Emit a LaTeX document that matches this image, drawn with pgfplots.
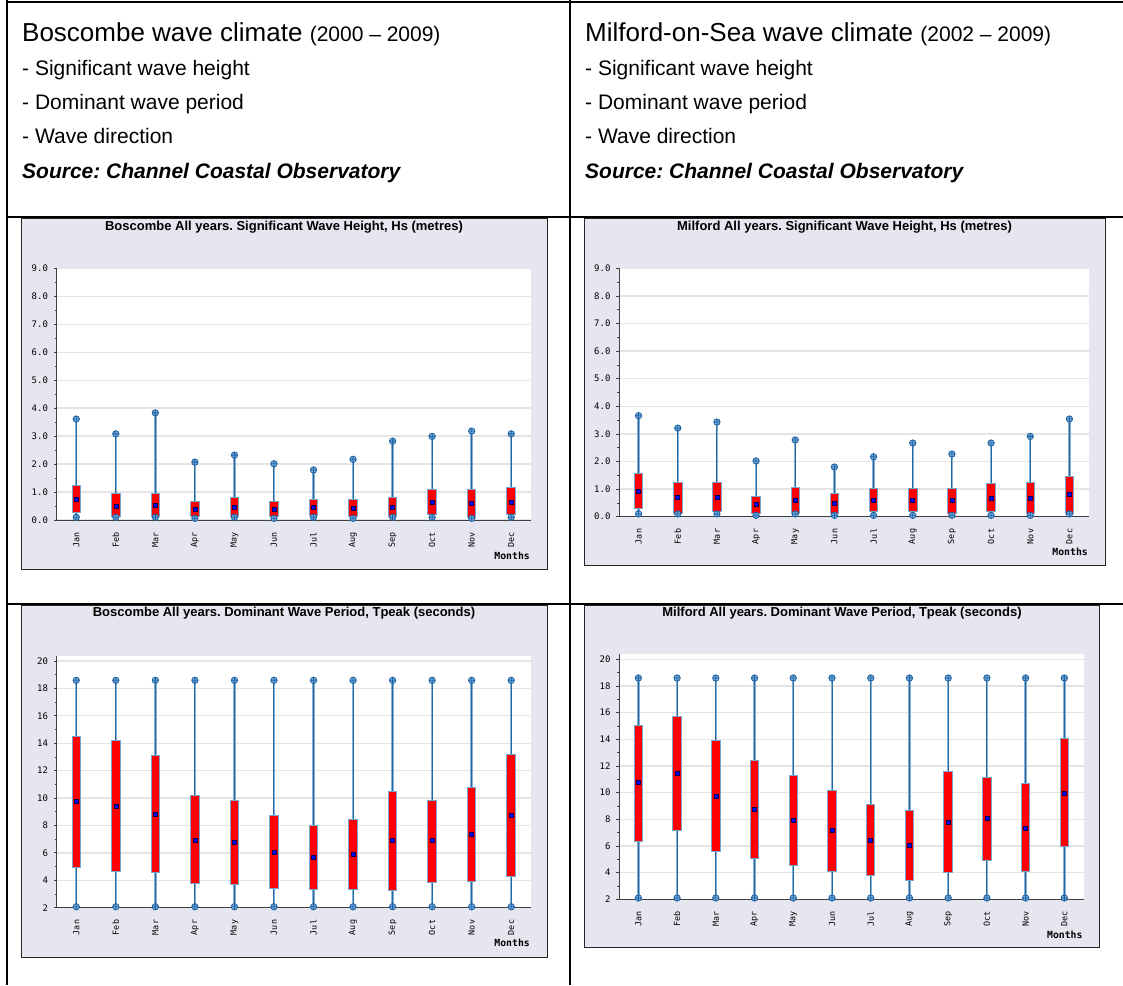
\documentclass[border=0pt]{standalone}
\usepackage{fontspec}
\setmainfont{Liberation Sans}
\setmonofont{DejaVu Sans Mono}
\usepackage{pgfplots}
\pgfplotsset{compat=1.18}
\usepackage{pgfplotstable}

\definecolor{panelbg}{RGB}{230,230,240}
\definecolor{wdark}{RGB}{35,105,165}
\definecolor{wlight}{RGB}{135,175,210}
\definecolor{boxred}{RGB}{255,0,0}
\definecolor{boxedge}{RGB}{120,165,205}
\definecolor{markfill}{RGB}{120,170,215}
\definecolor{markdraw}{RGB}{30,100,165}
\definecolor{meanfill}{RGB}{0,0,255}
\definecolor{meandraw}{RGB}{0,0,80}
\definecolor{gridc}{RGB}{228,228,228}
\definecolor{axisc}{RGB}{64,64,64}

% m = month, min, q1 = box bottom, mean, q3 = box top, max
\pgfplotstableread{
m min q1 mean q3 max
1 0.10 0.27 0.75 1.21 3.61
2 0.10 0.14 0.50 0.92 3.08
3 0.10 0.14 0.52 0.92 3.83
4 0.06 0.15 0.37 0.63 2.07
5 0.10 0.14 0.46 0.77 2.32
6 0.06 0.15 0.37 0.63 2.01
7 0.10 0.18 0.46 0.71 1.79
8 0.06 0.15 0.43 0.71 2.17
9 0.10 0.14 0.46 0.77 2.82
10 0.10 0.21 0.65 1.08 2.99
11 0.06 0.10 0.60 1.06 3.18
12 0.10 0.21 0.65 1.13 3.08
}\tabBH

\pgfplotstableread{
m min q1 mean q3 max
1 0.10 0.30 0.91 1.53 3.66
2 0.10 0.14 0.69 1.23 3.21
3 0.10 0.22 0.72 1.23 3.43
4 0.05 0.12 0.45 0.72 2.02
5 0.10 0.12 0.60 1.03 2.78
6 0.05 0.14 0.47 0.81 1.80
7 0.05 0.19 0.60 1.00 2.17
8 0.05 0.19 0.60 1.00 2.67
9 0.05 0.12 0.58 1.00 2.27
10 0.05 0.19 0.66 1.17 2.67
11 0.05 0.12 0.66 1.21 2.91
12 0.10 0.14 0.80 1.44 3.54
}\tabMH

\pgfplotstableread{
m min q1 mean q3 max
1 2.07 4.99 9.79 14.46 18.59
2 2.07 4.68 9.37 14.14 18.59
3 2.07 4.63 8.79 13.05 18.59
4 2.07 3.78 6.94 10.15 18.59
5 2.07 3.70 6.79 9.81 18.59
6 2.07 3.46 6.04 8.67 18.59
7 2.07 3.34 5.65 7.96 18.59
8 2.07 3.39 5.92 8.40 18.59
9 2.07 3.27 6.89 10.47 18.59
10 2.07 3.85 6.89 9.81 18.59
11 2.07 3.92 7.33 10.73 18.59
12 2.07 4.29 8.74 13.12 18.59
}\tabBT

\pgfplotstableread{
m min q1 mean q3 max
1 2.10 6.38 10.75 15.03 18.60
2 2.10 7.20 11.45 15.68 18.60
3 2.10 5.60 9.70 13.88 18.60
4 2.10 5.08 8.75 12.35 18.60
5 2.10 4.58 7.90 11.25 18.60
6 2.10 4.13 7.15 10.15 18.60
7 2.10 3.80 6.43 9.05 18.60
8 2.10 3.48 6.05 8.65 18.60
9 2.10 4.05 7.78 11.58 18.60
10 2.10 4.95 8.05 11.13 18.60
11 2.10 4.13 7.35 10.63 18.60
12 2.10 6.00 9.98 14.00 18.60
}\tabMT

\pgfplotsset{
  wavebox/.style={
    scale only axis, anchor=south west,
    xmin=0.5, xmax=12.5,
    xtick={1,...,12},
    xticklabels={Jan,Feb,Mar,Apr,May,Jun,Jul,Aug,Sep,Oct,Nov,Dec},
    xticklabel style={rotate=90, anchor=east, inner sep=0pt, xshift=-9pt,
      font=\fontsize{8.4}{10}\selectfont\ttfamily},
    x tick style={draw=none},
    axis x line*=bottom, axis y line*=left,
    axis line style={axisc, line width=1pt, -},
    axis background/.style={fill=white},
    ymajorgrids, major grid style={gridc, line width=1.3pt},
    minor y tick num=1,
    tick align=outside, major tick length=3pt, minor tick length=2pt,
    y tick style={axisc, line width=0.8pt},
    yticklabel style={font=\fontsize{9}{10}\selectfont\ttfamily,
      /pgf/number format/assume math mode=true, xshift=-2pt},
    xlabel={Months},
    xlabel style={at={(axis description cs:1,0)}, anchor=north east,
      yshift=-31.5pt, xshift=-1pt, inner sep=0pt,
      font=\fontsize{9.8}{11}\selectfont\ttfamily\bfseries},
    clip=false,
  },
  hsaxis/.style={ymin=0, ymax=9, ytick={0,1,...,9},
    yticklabel style={/pgf/number format/.cd, fixed, fixed zerofill, precision=1}},
  tpaxis/.style={ymin=2, ymax=20.4, ytick={2,4,...,20}},
}

\newcommand{\boxes}[2]{%
  \addplot[forget plot, draw=none, error bars/.cd, y dir=plus, y explicit,
    error mark=none, error bar style={line width=2.4pt, draw=wlight}]
    table[x=m, y=min, y error expr=\thisrow{max}-\thisrow{min}] {#1};
  \addplot[forget plot, draw=none, error bars/.cd, y dir=plus, y explicit,
    error mark=none, error bar style={line width=1pt, draw=wdark}]
    table[x=m, y=min, y error expr=\thisrow{max}-\thisrow{min}] {#1};
  \addplot[forget plot, draw=none, error bars/.cd, y dir=plus, y explicit,
    error mark=none, error bar style={line width=9.5pt, draw=boxedge}]
    table[x=m, y expr=\thisrow{q1}-#2, y error expr=\thisrow{q3}-\thisrow{q1}+2*#2] {#1};
  \addplot[forget plot, draw=none, error bars/.cd, y dir=plus, y explicit,
    error mark=none, error bar style={line width=7.5pt, draw=boxred}]
    table[x=m, y=q1, y error expr=\thisrow{q3}-\thisrow{q1}] {#1};
  \addplot[forget plot, only marks, mark=oplus*, mark size=3.2pt,
    mark options={fill=markfill, draw=markdraw, line width=0.8pt}]
    table[x=m, y=max] {#1};
  \addplot[forget plot, only marks, mark=oplus*, mark size=3.2pt,
    mark options={fill=markfill, draw=markdraw, line width=0.8pt}]
    table[x=m, y=min] {#1};
  \addplot[forget plot, only marks, mark=square*, mark size=2pt,
    mark options={fill=meanfill, draw=meandraw, line width=0.6pt}]
    table[x=m, y=mean] {#1};
}

\begin{document}
\frenchspacing
\begin{tikzpicture}
\path[use as bounding box] (0pt,0pt) rectangle (1123pt,-985pt);

% chart panels
\draw[fill=panelbg, draw=black!85, line width=0.9pt] (21pt,-218pt) rectangle (547pt,-569pt);
\draw[fill=panelbg, draw=black!85, line width=0.9pt] (584pt,-218pt) rectangle (1105pt,-565pt);
\draw[fill=panelbg, draw=black!85, line width=0.9pt] (21pt,-605pt) rectangle (547pt,-957pt);
\draw[fill=panelbg, draw=black!85, line width=0.9pt] (584pt,-605pt) rectangle (1099pt,-947pt);

\node[font=\bfseries\fontsize{13}{15}\selectfont] at (284pt,-227pt)
  {Boscombe All years. Significant Wave Height, Hs (metres)};
\node[font=\bfseries\fontsize{13}{15}\selectfont] at (844.5pt,-227pt)
  {Milford All years. Significant Wave Height, Hs (metres)};
\node[font=\bfseries\fontsize{13}{15}\selectfont] at (284pt,-613.5pt)
  {Boscombe All years. Dominant Wave Period, Tpeak (seconds)};
\node[font=\bfseries\fontsize{13}{15}\selectfont] at (842pt,-613pt)
  {Milford All years. Dominant Wave Period, Tpeak (seconds)};

\begin{axis}[wavebox, hsaxis, at={(56.5pt,-520pt)}, width=474.5pt, height=251.7pt]
\boxes{\tabBH}{0.036}
\end{axis}

\begin{axis}[wavebox, hsaxis, at={(619pt,-516.7pt)}, width=470pt, height=248.4pt]
\boxes{\tabMH}{0.036}
\end{axis}

\begin{axis}[wavebox, tpaxis, at={(56.5pt,-907.7pt)}, width=474.5pt, height=252.2pt]
\boxes{\tabBT}{0.073}
\end{axis}

\begin{axis}[wavebox, tpaxis, at={(619pt,-899.3pt)}, width=464.7pt, height=245.3pt]
\boxes{\tabMT}{0.075}
\end{axis}

% table rules
\draw[line width=2pt] (7pt,0pt) -- (7pt,-985pt);
\draw[line width=2pt] (570pt,0pt) -- (570pt,-985pt);
\draw[line width=2pt] (6pt,-1.5pt) -- (1123pt,-1.5pt);
\draw[line width=2pt] (6pt,-217pt) -- (1123pt,-217pt);
\draw[line width=2pt] (6pt,-604pt) -- (1123pt,-604pt);

% text cells
\begin{scope}[every node/.style={anchor=base west, inner sep=0pt}]
\node at (22pt,-41pt) {\fontsize{26}{30}\selectfont Boscombe wave climate \fontsize{21}{24}\selectfont(2000 – 2009)};
\node at (22pt,-75pt) {\fontsize{21}{24}\selectfont - Significant wave height};
\node at (22pt,-109pt) {\fontsize{21}{24}\selectfont - Dominant wave period};
\node at (22pt,-143pt) {\fontsize{21}{24}\selectfont - Wave direction};
\node at (22pt,-178pt) {\fontsize{21}{24}\selectfont\bfseries\itshape Source: Channel Coastal Observatory};
\node at (585pt,-41pt) {\fontsize{26}{30}\selectfont Milford-on-Sea wave climate \fontsize{21}{24}\selectfont(2002 – 2009)};
\node at (585pt,-75pt) {\fontsize{21}{24}\selectfont - Significant wave height};
\node at (585pt,-109pt) {\fontsize{21}{24}\selectfont - Dominant wave period};
\node at (585pt,-143pt) {\fontsize{21}{24}\selectfont - Wave direction};
\node at (585pt,-178pt) {\fontsize{21}{24}\selectfont\bfseries\itshape Source: Channel Coastal Observatory};
\end{scope}
\end{tikzpicture}
\end{document}
